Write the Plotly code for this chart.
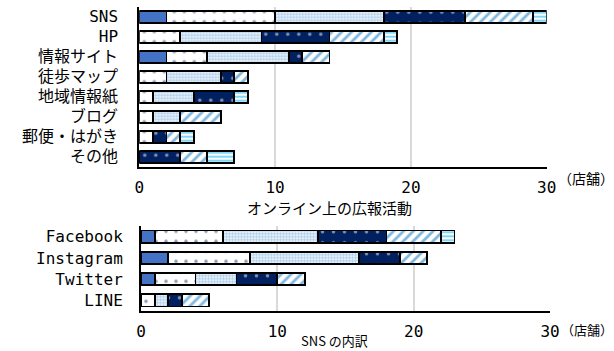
import plotly.graph_objects as go

W, H = 614, 351

# ---- data ----
top_cats = ["SNS", "HP", "情報サイト", "徒歩マップ", "地域情報紙", "ブログ", "郵便・はがき", "その他"]
top_s1 = [2, 0, 2, 0, 0, 0, 0, 0]
top_s2 = [8, 3, 3, 2, 1, 1, 1, 0]
top_s3 = [8, 6, 6, 4, 3, 2, 0, 0]
top_s4 = [6, 5, 1, 1, 3, 0, 1, 3]
top_s5 = [5, 4, 2, 1, 0, 3, 1, 2]
top_s6 = [1, 1, 0, 0, 1, 0, 1, 2]

bot_cats = ["Facebook", "Instagram", "Twitter", "LINE"]
bot_s1 = [1, 2, 1, 0]
bot_s2 = [5, 6, 3, 1]
bot_s3 = [7, 8, 3, 1]
bot_s4 = [5, 3, 3, 1]
bot_s5 = [4, 2, 2, 2]
bot_s6 = [1, 0, 0, 0]

x_ticks = [0, 10, 20, 30]
top_title = "オンライン上の広報活動"
bot_title = "SNS の内訳"
unit = "（店舗）"

# ---- styles ----
styles = [
    dict(color="#4472C4", pattern=dict(shape="")),
    dict(color="white", pattern=dict(shape=".", fgcolor="#1F3864", bgcolor="white", size=10, solidity=0.1)),
    dict(color="white", pattern=dict(shape=".", fgcolor="#5B9BD5", bgcolor="white", size=3, solidity=0.65)),
    dict(color="#002060", pattern=dict(shape=".", fgcolor="white", bgcolor="#002060", size=11, solidity=0.08)),
    dict(color="white", pattern=dict(shape="/", fgcolor="#0070C0", bgcolor="white", size=7, solidity=0.4)),
    dict(color="white", pattern=dict(shape="-", fgcolor="#00B0F0", bgcolor="white", size=4, solidity=0.5)),
]

fig = go.Figure()
top_series = [top_s1, top_s2, top_s3, top_s4, top_s5, top_s6]
bot_series = [bot_s1, bot_s2, bot_s3, bot_s4, bot_s5, bot_s6]
for vals, st in zip(top_series, styles):
    fig.add_trace(go.Bar(y=top_cats, x=vals, orientation="h", xaxis="x", yaxis="y",
                         marker=dict(color=st["color"], pattern=st["pattern"],
                                     line=dict(color="black", width=1.8)),
                         showlegend=False))
for vals, st in zip(bot_series, styles):
    fig.add_trace(go.Bar(y=bot_cats, x=vals, orientation="h", xaxis="x2", yaxis="y2",
                         marker=dict(color=st["color"], pattern=st["pattern"],
                                     line=dict(color="black", width=1.8)),
                         showlegend=False))

def px_x(p):
    return p / W

def px_y(p):
    return 1 - p / H

font_main = "DejaVu Sans Mono, Noto Sans CJK JP"

xcommon = dict(range=[0, 30], tickvals=x_ticks, showgrid=True, gridcolor="#D9D9D9", gridwidth=1.5,
               zeroline=False, showline=True, linecolor="black", linewidth=2, ticks="",
               tickfont=dict(family=font_main, size=16, color="black"), automargin=False,
               fixedrange=True)
ycommon = dict(autorange="reversed", showline=True, linecolor="black", linewidth=2, ticks="",
               tickfont=dict(family=font_main, size=16, color="black"), automargin=False,
               showgrid=False)

fig.update_layout(
    width=W, height=H, margin=dict(l=0, r=0, t=0, b=0),
    paper_bgcolor="white", plot_bgcolor="white",
    barmode="stack", bargap=0.4,
    xaxis=dict(domain=[px_x(139.3), px_x(546.7)], anchor="y", ticklabelstandoff=5, **xcommon),
    yaxis=dict(domain=[px_y(166.7), px_y(6.7)], anchor="x", ticklabelstandoff=16, **ycommon),
    xaxis2=dict(domain=[px_x(141), px_x(550)], anchor="y2", ticklabelstandoff=5, **xcommon),
    yaxis2=dict(domain=[px_y(310.7), px_y(226.3)], anchor="x2", ticklabelstandoff=13, **ycommon),
    annotations=[
        dict(text=top_title, xref="paper", yref="paper", x=px_x(329), y=px_y(195),
             xanchor="center", yanchor="top", showarrow=False,
             font=dict(family="Noto Sans CJK JP", size=15, color="black")),
        dict(text=bot_title, xref="paper", yref="paper", x=px_x(334), y=px_y(330),
             xanchor="center", yanchor="top", showarrow=False, borderpad=0,
             font=dict(family="Noto Sans CJK JP", size=13, color="black")),
        dict(text=unit, xref="paper", yref="paper", x=px_x(556), y=px_y(177.5),
             xanchor="left", yanchor="middle", showarrow=False,
             font=dict(family="Noto Sans CJK JP", size=14, color="black")),
        dict(text=unit, xref="paper", yref="paper", x=px_x(559), y=px_y(329),
             xanchor="left", yanchor="middle", showarrow=False,
             font=dict(family="Noto Sans CJK JP", size=13, color="black")),
    ],
)

fig.write_html("out.html")
